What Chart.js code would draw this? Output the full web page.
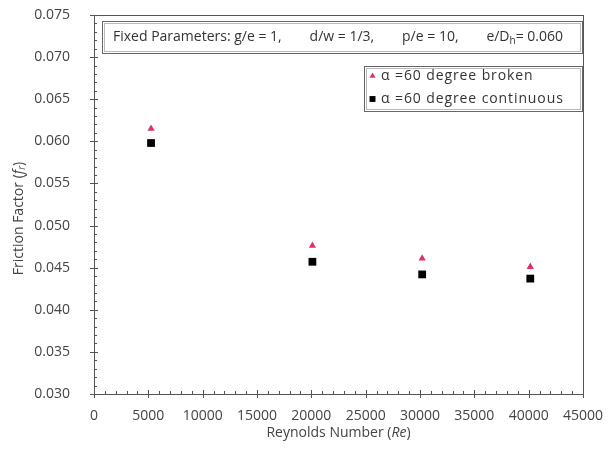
<!DOCTYPE html>
<html>
<head>
<meta charset="utf-8">
<script src="https://cdn.jsdelivr.net/npm/chart.js@4/dist/chart.umd.min.js"></script>
<style>
  html, body { margin: 0; padding: 0; background: #fff; }
  #wrap { width: 609px; height: 454px; }
</style>
</head>
<body>
<div id="wrap"><canvas id="frictionChart" width="609" height="454"></canvas></div>
<script>
// Reynolds number of each test run
const reynolds = [5250, 20100, 30200, 40150];
// friction factor, alpha = 60 degree broken rib
const brokenF = [0.0615, 0.0476, 0.0461, 0.0451];
// friction factor, alpha = 60 degree continuous rib
const continuousF = [0.0598, 0.0457, 0.0442, 0.0437];

const seriesLabels = ['α =60 degree broken', 'α =60 degree continuous'];
const fixedParams = ['Fixed Parameters: g/e = 1,', 'd/w = 1/3,', 'p/e = 10,', 'e/D'];

const FONT = '"Open Sans", Lato, sans-serif';
const TEXT = '#444';

function toPoints(xs, ys) {
    return xs.map((x, i) => ({ x: x, y: ys[i] }));
}

// draws a run of [text, font, dy] pieces left to right
function drawRuns(ctx, x, y, runs) {
    runs.forEach(r => {
        ctx.font = r[1];
        ctx.fillText(r[0], x, y + (r[2] || 0));
        x += ctx.measureText(r[0]).width;
    });
    return x;
}
function runsWidth(ctx, runs) {
    let w = 0;
    runs.forEach(r => { ctx.font = r[1]; w += ctx.measureText(r[0]).width; });
    return w;
}

const decorPlugin = {
    id: 'decor',
    afterDatasetsDraw(chart) {
        const ctx = chart.ctx;
        const area = chart.chartArea;
        const xs = chart.scales.x;
        const ys = chart.scales.y;
        ctx.save();

        // plot frame
        ctx.strokeStyle = '#555';
        ctx.lineWidth = 1;
        ctx.strokeRect(Math.round(area.left) + 0.5, Math.round(area.top) + 0.5,
            Math.round(area.right - area.left), Math.round(area.bottom - area.top));

        // tick marks: major cross the axis, minor inside only
        ctx.beginPath();
        for (let v = 0; v <= 45000; v += 1000) {
            const px = Math.round(xs.getPixelForValue(v)) + 0.5;
            const major = v % 5000 === 0;
            ctx.moveTo(px, area.bottom + (major ? 4 : 0));
            ctx.lineTo(px, area.bottom - (major ? 4 : 3));
        }
        for (let i = 0; i <= 45; i++) {
            const v = 0.03 + i * 0.001;
            const py = Math.round(ys.getPixelForValue(v)) + 0.5;
            const major = i % 5 === 0;
            ctx.moveTo(area.left - (major ? 4 : 0), py);
            ctx.lineTo(area.left + (major ? 4 : 3), py);
        }
        ctx.stroke();

        // axis titles
        ctx.fillStyle = TEXT;
        ctx.textBaseline = 'middle';
        const xRuns = [['Reynolds Number (', '14px ' + FONT], ['Re', 'italic 14px ' + FONT], [')', '14px ' + FONT]];
        const cx = (area.left + area.right) / 2;
        drawRuns(ctx, cx - runsWidth(ctx, xRuns) / 2, 433, xRuns);

        const yRuns = [['Friction Factor (', '14px ' + FONT], ['f', 'italic 14px ' + FONT],
            ['r', 'italic 10px ' + FONT, 3], [')', '14px ' + FONT]];
        ctx.save();
        ctx.translate(19, (area.top + area.bottom) / 2 + 14);
        ctx.rotate(-Math.PI / 2);
        drawRuns(ctx, -runsWidth(ctx, yRuns) / 2, 0, yRuns);
        ctx.restore();

        // fixed parameter box
        ctx.fillStyle = '#fff';
        ctx.fillRect(102, 21, 480, 32);
        ctx.strokeStyle = '#666';
        ctx.strokeRect(102.5, 21.5, 480, 32);
        ctx.strokeStyle = '#bbb';
        ctx.strokeRect(104.5, 23.5, 476, 28);
        ctx.fillStyle = '#333';
        const pf = '14px ' + FONT;
        const lastRuns = [[fixedParams[3], pf], ['h', '10px ' + FONT, 4], ['= 0.060', pf]];
        ctx.font = pf;
        const widths = fixedParams.slice(0, 3).map(t => ctx.measureText(t).width);
        const total = widths.reduce((a, b) => a + b, 0) + runsWidth(ctx, lastRuns);
        const gap = (450 - total) / 3;
        let px = 113;
        for (let i = 0; i < 3; i++) {
            ctx.font = pf;
            ctx.fillText(fixedParams[i], px, 37.5);
            px += widths[i] + gap;
        }
        drawRuns(ctx, px, 37.5, lastRuns);

        // legend box
        ctx.fillStyle = '#fff';
        ctx.fillRect(364, 66, 218, 45);
        ctx.strokeStyle = '#666';
        ctx.strokeRect(364.5, 66.5, 218, 45);
        ctx.strokeStyle = '#bbb';
        ctx.strokeRect(366.5, 68.5, 214, 41);
        const rowY = [76, 99];
        chart.data.datasets.forEach((ds, i) => {
            Chart.helpers.drawPoint(ctx, {
                pointStyle: ds.pointStyle, radius: ds.pointStyle === 'rect' ? 4 : 3.5, rotation: 0,
                borderWidth: 0
            }, 372.5, rowY[i]);
            ctx.fillStyle = ds.backgroundColor;
            ctx.fill();
            ctx.fillStyle = '#333';
            ctx.font = '14px ' + FONT;
            ctx.letterSpacing = '0.9px';
            ctx.fillText(ds.label, 381, rowY[i]);
            ctx.letterSpacing = '0px';
        });

        ctx.restore();
    }
};

new Chart(document.getElementById('frictionChart'), {
    type: 'scatter',
    data: {
        datasets: [
            {
                label: seriesLabels[0],
                data: toPoints(reynolds, brokenF),
                pointStyle: 'triangle',
                backgroundColor: '#e0306a',
                borderColor: '#e0306a',
                borderWidth: 0,
                pointRadius: 4.2
            },
            {
                label: seriesLabels[1],
                data: toPoints(reynolds, continuousF),
                pointStyle: 'rect',
                backgroundColor: '#000',
                borderColor: '#000',
                borderWidth: 0,
                pointRadius: 5.5
            }
        ]
    },
    options: {
        responsive: false,
        animation: false,
        devicePixelRatio: 1,
        layout: { padding: { top: 15, right: 23, left: 0, bottom: 0 } },
        plugins: {
            legend: { display: false },
            tooltip: { enabled: false }
        },
        scales: {
            x: {
                type: 'linear',
                min: 0,
                max: 45000,
                grid: { display: false },
                border: { display: false },
                ticks: {
                    stepSize: 5000,
                    padding: 6,
                    maxRotation: 0,
                    color: TEXT,
                    font: { family: FONT, size: 14 },
                    callback: v => String(v)
                },
                afterFit: scale => { scale.height = 60; }
            },
            y: {
                min: 0.03,
                max: 0.075,
                grid: { display: false },
                border: { display: false },
                ticks: {
                    stepSize: 0.005,
                    padding: 16,
                    color: TEXT,
                    font: { family: FONT, size: 14 },
                    callback: v => v.toFixed(3)
                },
                afterFit: scale => {
                    scale.width = 94;
                    scale.paddingTop = 0;
                    scale.paddingBottom = 0;
                }
            }
        }
    },
    plugins: [decorPlugin]
});
</script>
</body>
</html>
